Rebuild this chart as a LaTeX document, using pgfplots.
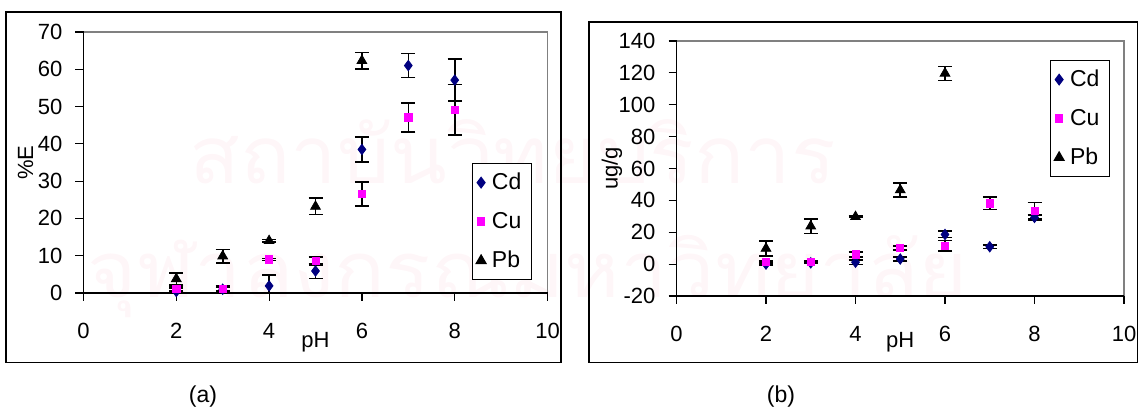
\documentclass[border=0pt]{standalone}
\usepackage{fontspec}
\setmainfont{Liberation Sans}
\newfontfamily\thaifont[Script=Thai]{Loma}
\usepackage{graphicx}
\usepackage{pgfplots}
\pgfplotsset{compat=1.18}
\definecolor{cdnavy}{RGB}{0,0,128}
\definecolor{cumag}{RGB}{255,0,255}
\definecolor{wmark}{RGB}{254,246,248}
\pgfplotsset{
  excelstyle/.style={
    scale only axis, anchor=south west,
    xmin=0, xmax=10, xtick={0,2,...,10},
    axis lines*=left,
    axis line style={black, line width=0.6pt},
    axis background/.style={draw=gray, line width=0.6pt},
    tick align=outside, major tick length=4pt,
    tick style={black, line width=0.6pt},
    tick label style={font=\fontsize{11}{13}\selectfont},
    /pgf/number format/assume math mode=true,
    xticklabel style={yshift=-7.5pt},
    yticklabel style={xshift=-3pt},
    label style={font=\fontsize{11}{13}\selectfont},
    legend cell align=left,
    legend image code/.code={\draw[##1] plot coordinates {(0pt,0pt)};},
    legend style={anchor=north east, draw=black, line width=0.6pt, fill=white,
      font=\fontsize{11.5}{13}\selectfont, inner xsep=2pt, inner ysep=4pt,
      row sep=8.5pt, nodes={inner xsep=3pt, inner ysep=1pt, text height=8pt, text depth=1pt},
      /tikz/every even column/.append style={column sep=4.5pt}},
    error bars/y dir=both, error bars/y explicit,
    error bars/error bar style={black, line width=0.8pt},
    error bars/error mark options={rotate=90, mark size=3.5pt, black, line width=0.8pt},
  },
  cdstyle/.style={only marks, mark=diamond*, mark size=2.6pt, color=cdnavy, mark options={fill=cdnavy, draw=cdnavy}},
  custyle/.style={only marks, mark=square*, mark size=1.8pt, color=cumag, mark options={fill=cumag, draw=cumag}},
  pbstyle/.style={only marks, mark=triangle*, mark size=2.8pt, color=black, mark options={fill=black, draw=black}},
}
\begin{document}
\begin{tikzpicture}
\useasboundingbox (0,0) rectangle (569.5pt,205pt);
% watermark
\node[text=wmark, inner sep=0pt] at (256.5pt,129pt) {\resizebox{323pt}{32pt}{\thaifont สถาบันวิทยบริการ}};
\node[text=wmark, inner sep=0pt] at (264pt,68pt) {\resizebox{440pt}{34pt}{\thaifont จุฬาลงกรณ์มหาวิทยาลัย}};
% outer boxes
\draw[black, line width=0.6pt] (3pt,23.75pt) rectangle (280.5pt,199pt);
\draw[black, line width=0.6pt] (294.5pt,23.75pt) rectangle (568.9pt,194pt);
\node[font=\fontsize{11.5}{13}\selectfont] at (101.5pt,6.5pt) {(a)};
\node[font=\fontsize{11.5}{13}\selectfont] at (390.5pt,6.5pt) {(b)};

\begin{axis}[excelstyle,
  at={(41.75pt,58.5pt)}, width=232pt, height=130.5pt,
  ymin=0, ymax=70, ytick={0,10,...,70},
  xlabel={pH}, ylabel={\%E},
  xlabel style={at={(axis description cs:0.5,-0.1877)}, anchor=center},
  ylabel style={at={(axis description cs:-0.125,0.5)}, anchor=center},
  legend style={at={(0.9665,0.498)}},
]
\addplot+[cdstyle] coordinates {
  (2,0.4) +- (0,0.9)
  (3,1.0) +- (0,0.5)
  (4,1.9) +- (0,2.9)
  (5,5.9) +- (0,2.0)
  (6,38.5) +- (0,3.4)
  (7,61.0) +- (0,3.2)
  (8,57.1) +- (0,5.6)
};
\addlegendentry{Cd}
\addplot+[custyle] coordinates {
  (2,1.1) +- (0,0.5)
  (3,1.1) +- (0,0.7)
  (4,9.0) +- (0,0.3)
  (5,8.6) +- (0,1.1)
  (6,26.5) +- (0,3.2)
  (7,47.1) +- (0,3.9)
  (8,49.1) +- (0,6.8)
};
\addlegendentry{Cu}
\addplot+[pbstyle] coordinates {
  (2,3.8) +- (0,1.6)
  (3,9.9) +- (0,1.8)
  (4,14.0) +- (0,0.3)
  (5,23.2) +- (0,2.2)
  (6,62.3) +- (0,2.2)
};
\addlegendentry{Pb}
\end{axis}

\begin{axis}[excelstyle,
  at={(338.25pt,57pt)}, width=223.75pt, height=127.5pt,
  ymin=-20, ymax=140, ytick={-20,0,...,140},
  xlabel={pH}, ylabel={ug/g},
  xlabel style={at={(axis description cs:0.5,-0.1804)}, anchor=center},
  ylabel style={at={(axis description cs:-0.1441,0.5)}, anchor=center},
  legend style={at={(0.9687,0.9255)}},
]
\addplot+[cdstyle] coordinates {
  (2,0.0) +- (0,0.6)
  (3,0.8) +- (0,0.5)
  (4,1.2) +- (0,1.5)
  (5,3.2) +- (0,1.4)
  (6,18.6) +- (0,2.0)
  (7,10.9) +- (0,1.0)
  (8,29.3) +- (0,1.5)
};
\addlegendentry{Cd}
\addplot+[custyle] coordinates {
  (2,1.5) +- (0,0.6)
  (3,1.3) +- (0,0.5)
  (4,6.1) +- (0,1.5)
  (5,10.2) +- (0,1.2)
  (6,11.5) +- (0,3.4)
  (7,38.1) +- (0,3.9)
  (8,33.5) +- (0,5.2)
};
\addlegendentry{Cu}
\addplot+[pbstyle] coordinates {
  (2,9.8) +- (0,4.6)
  (3,23.8) +- (0,4.5)
  (4,29.7) +- (0,0.5)
  (5,46.5) +- (0,4.5)
  (6,119.7) +- (0,4.4)
};
\addlegendentry{Pb}
\end{axis}
\end{tikzpicture}
\end{document}
